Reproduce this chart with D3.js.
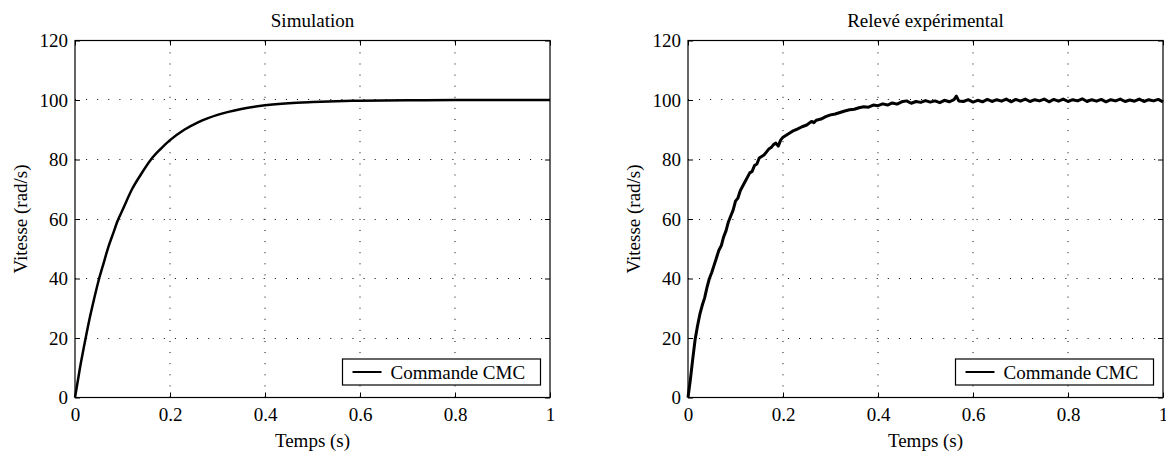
<!DOCTYPE html>
<html>
<head>
<meta charset="utf-8">
<script src="https://cdn.jsdelivr.net/npm/d3@7"></script>
<style>
  body { margin: 0; background: #fff; }
  svg { display: block; font-family: "Liberation Serif", "Times New Roman", serif; }
  .axis text { font-family: "Liberation Serif", "Times New Roman", serif; font-size: 19px; fill: #000; }
  .label { font-size: 19px; fill: #000; }
</style>
</head>
<body>
<div id="chart"></div>
<script>
var xTicks = [0, 0.2, 0.4, 0.6, 0.8, 1];
var yTicks = [0, 20, 40, 60, 80, 100, 120];

// simulation
var simT = [0, 0.01, 0.02, 0.03, 0.04, 0.05, 0.06, 0.07, 0.08, 0.09, 0.10, 0.12, 0.14, 0.16, 0.18, 0.20,
            0.23, 0.26, 0.30, 0.35, 0.40, 0.45, 0.50, 0.55, 0.60, 0.70, 0.80, 0.90, 1.0];
var simV = [0, 9.5, 18, 26, 33, 39.5, 45, 50.5, 55, 59.5, 63, 70, 75.3, 80, 83.5, 86.5,
            90, 92.6, 95, 97, 98.2, 98.9, 99.3, 99.6, 99.75, 99.9, 100, 100, 100];

// experimental record
var expT = [0, 0.005, 0.01, 0.015, 0.02, 0.025, 0.03, 0.035, 0.04, 0.045, 0.05, 0.055, 0.06, 0.065, 0.07,
            0.075, 0.08, 0.085, 0.09, 0.095, 0.10, 0.105, 0.11, 0.115, 0.12, 0.125, 0.13, 0.135, 0.14,
            0.145, 0.15, 0.155, 0.16, 0.165, 0.17, 0.175, 0.18, 0.185, 0.19, 0.195, 0.20, 0.21, 0.22,
            0.23, 0.24, 0.25, 0.26, 0.265, 0.27, 0.28, 0.29, 0.30, 0.31, 0.32, 0.33, 0.34, 0.35, 0.36,
            0.37, 0.38, 0.39, 0.40, 0.41, 0.42, 0.43, 0.44, 0.45, 0.46, 0.47, 0.48, 0.49, 0.50, 0.51,
            0.52, 0.53, 0.54, 0.55, 0.56, 0.565, 0.57, 0.58, 0.59, 0.60, 0.61, 0.62, 0.63, 0.64, 0.65,
            0.66, 0.67, 0.68, 0.69, 0.70, 0.71, 0.72, 0.73, 0.74, 0.75, 0.76, 0.77, 0.78, 0.79, 0.80,
            0.81, 0.82, 0.83, 0.84, 0.85, 0.86, 0.87, 0.88, 0.89, 0.90, 0.91, 0.92, 0.93, 0.94, 0.95,
            0.96, 0.97, 0.98, 0.99, 1.0];
var expV = [0, 6, 13, 19.5, 24, 28, 31, 33.5, 37, 40, 42, 44.5, 47, 49.5, 51, 54, 56, 59, 61, 63, 66,
            67, 69.5, 71, 72.5, 74, 75.5, 76, 78, 78.5, 80.5, 81, 81.5, 82.5, 83.5, 84, 85, 85.5, 84.5,
            86.5, 87.5, 88.5, 89.5, 90.2, 91, 91.6, 92.8, 92.4, 93.2, 93.6, 94.4, 95, 95.3, 95.8, 96.3,
            96.7, 96.9, 97.4, 97.7, 97.6, 98.3, 98.1, 98.7, 98.3, 99, 98.6, 99.4, 99.7, 98.9, 99.5, 99.2,
            99.8, 99.3, 99.7, 99.1, 99.9, 99.4, 100.1, 101.3, 99.7, 99.5, 100.1, 99.3, 99.9, 99.4, 100.2,
            99.5, 100.1, 99.6, 100.3, 99.4, 100.2, 99.6, 100.3, 99.5, 100.1, 99.7, 100.3, 99.4, 100.2,
            99.6, 100.3, 99.5, 100.1, 99.7, 100.4, 99.5, 100.1, 99.6, 100.2, 99.4, 100.1, 99.7, 100.3,
            99.5, 100, 99.6, 100.3, 99.5, 100.1, 99.7, 100.2, 99.4];

var W = 1166, H = 451;
var svg = d3.select("#chart").append("svg")
    .attr("width", W)
    .attr("height", H);

function panel(left, right, title, tArr, vArr, lineWidth, smooth) {
  var top = 40.5, bottom = 397.5;
  var width = right - left, height = bottom - top;
  var x = d3.scaleLinear().domain([0, 1]).range([0, width]);
  var y = d3.scaleLinear().domain([0, 120]).range([height, 0]);

  var g = svg.append("g").attr("transform", "translate(" + left + "," + top + ")");

  // dotted grid
  g.selectAll(".vgrid").data(xTicks.slice(1, -1)).enter().append("line")
      .attr("x1", function(d){ return Math.round(x(d)); })
      .attr("x2", function(d){ return Math.round(x(d)); })
      .attr("y1", height).attr("y2", 0)
      .attr("stroke", "#000").attr("stroke-width", 1)
      .attr("stroke-dasharray", "1,10.1");
  g.selectAll(".hgrid").data(yTicks.slice(1, -1)).enter().append("line")
      .attr("y1", function(d){ return Math.round(y(d)); })
      .attr("y2", function(d){ return Math.round(y(d)); })
      .attr("x1", 0).attr("x2", width)
      .attr("stroke", "#000").attr("stroke-width", 1)
      .attr("stroke-dasharray", "1,10.1");

  // axes (inward ticks)
  var xb = g.append("g").attr("class", "axis").attr("transform", "translate(0," + height + ")")
      .call(d3.axisBottom(x).tickValues(xTicks).tickSizeInner(-5).tickSizeOuter(0).tickFormat(d3.format("")));
  xb.selectAll("text").attr("y", 23.5).attr("dy", null);
  g.append("g").attr("class", "axis")
      .call(d3.axisTop(x).tickValues(xTicks).tickSizeInner(-5).tickSizeOuter(0).tickFormat(""));
  var yl = g.append("g").attr("class", "axis")
      .call(d3.axisLeft(y).tickValues(yTicks).tickSizeInner(-5).tickSizeOuter(0).tickPadding(7));
  yl.selectAll("text").attr("dy", "0.34em");
  g.append("g").attr("class", "axis").attr("transform", "translate(" + width + ",0)")
      .call(d3.axisRight(y).tickValues(yTicks).tickSizeInner(-5).tickSizeOuter(0).tickFormat(""));
  g.selectAll(".axis .domain").remove();
  g.selectAll(".axis line").attr("stroke", "#000");

  g.append("rect")
      .attr("x", 0).attr("y", 0).attr("width", width).attr("height", height)
      .attr("fill", "none").attr("stroke", "#000").attr("stroke-width", 1.2);

  // curve
  var pts = tArr.map(function(t, i){ return [t, vArr[i]]; });
  var line = d3.line()
      .x(function(d){ return x(d[0]); })
      .y(function(d){ return y(d[1]); })
      .curve(smooth ? d3.curveMonotoneX : d3.curveLinear);
  g.append("path").datum(pts)
      .attr("d", line)
      .attr("fill", "none")
      .attr("stroke", "#000")
      .attr("stroke-width", lineWidth)
      .attr("stroke-linejoin", "round");

  // labels
  g.append("text").attr("class", "label")
      .attr("x", width / 2).attr("y", 27 - top)
      .attr("text-anchor", "middle").text(title);
  g.append("text").attr("class", "label")
      .attr("x", width / 2).attr("y", 447 - top)
      .attr("text-anchor", "middle").text("Temps (s)");
  g.append("text").attr("class", "label")
      .attr("transform", "translate(-48," + (height / 2) + ") rotate(-90)")
      .attr("text-anchor", "middle").text("Vitesse (rad/s)");

  // legend
  var lw = 198, lh = 26;
  var lx = width - 9.5 - lw, ly = 359 - top;
  var leg = g.append("g").attr("transform", "translate(" + lx + "," + ly + ")");
  leg.append("rect").attr("width", lw).attr("height", lh)
      .attr("fill", "#fff").attr("stroke", "#000").attr("stroke-width", 1.2);
  leg.append("line").attr("x1", 10).attr("x2", 39).attr("y1", 13).attr("y2", 13)
      .attr("stroke", "#000").attr("stroke-width", 2);
  leg.append("text").attr("class", "label")
      .attr("x", 48).attr("y", 19.5).text("Commande CMC");
}

panel(75, 550, "Simulation", simT, simV, 2.5, true);
panel(688, 1163, "Relevé expérimental", expT, expV, 3, false);
</script>
</body>
</html>
